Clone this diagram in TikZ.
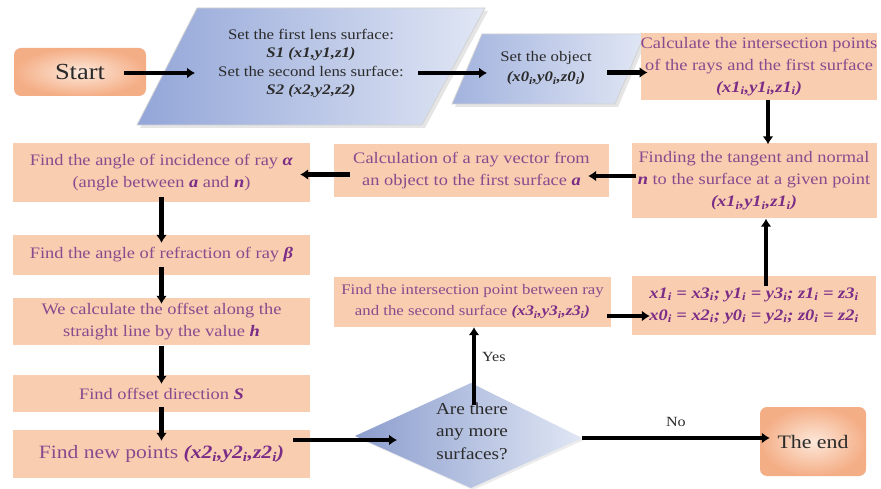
\documentclass[tikz,border=0pt]{standalone}
\usepackage{fontspec}
\setmainfont{Liberation Serif}[FakeStretch=1.15]
\usetikzlibrary{arrows.meta,calc,shadows}
\definecolor{peach}{HTML}{F8CDB0}
\definecolor{peachdk}{HTML}{F4AE86}
\definecolor{peachlt}{HTML}{FDE8DA}
\definecolor{txtp}{HTML}{8A4A8E}
\definecolor{txtd}{HTML}{7A2C86}
\definecolor{blued}{HTML}{93A6D8}
\definecolor{bluel}{HTML}{E0E6F4}
\definecolor{ink}{HTML}{2B2B2B}
\newcommand{\mybi}[1]{\textbf{\textit{#1}}}
\newcommand{\sbi}{\textsubscript{\textbf{\textit{i}}}}
\tikzset{
  pbox/.style={fill=peach, text=txtp, align=center, inner sep=0pt,
    font=\fontsize{16}{22}\selectfont},
  term/.style={rounded corners=7pt, shade, inner color=peachlt, outer color=peachdk,
    text=ink, inner sep=0pt},
  para/.style={left color=blued, right color=bluel, draw=gray!35, line width=0.8pt,
    drop shadow={opacity=0.2, shadow xshift=3pt, shadow yshift=-3pt}},
  ptext/.style={text=ink, align=center, inner sep=0pt},
  arr/.style={line width=4.2pt, black, -{Latex[length=8pt,width=11pt]}},
  lbl/.style={text=ink, inner sep=0pt, font=\fontsize{14}{16}\selectfont},
}
\begin{document}
\begin{tikzpicture}[x=1pt,y=-1pt]
\useasboundingbox (0,0) rectangle (881,489);
\fill[white] (0,0) rectangle (881,489);

% terminals
\node[term, minimum width=132pt, minimum height=48pt, font=\fontsize{23}{26}\selectfont] (start) at (80,72) {Start};
\node[term, minimum width=106pt, minimum height=69pt, font=\fontsize{19}{22}\selectfont] (theend) at (813,441.5) {The end};

% parallelograms
\path[para] (137,125) -- (197,8) -- (485,8) -- (422,125) -- cycle;
\node[ptext, font=\fontsize{14.6}{18.3}\selectfont] (par1) at (311,63.5)
  {Set the first lens surface:\\ \mybi{S1 (x1,y1,z1)}\\ Set the second lens surface:\\ \mybi{S2 (x2,y2,z2)}};
\path[para, left color=blued!80!bluel] (452,104) -- (482,34) -- (645,34) -- (615,104) -- cycle;
\node[ptext, font=\fontsize{14.6}{20}\selectfont] (par2) at (546,68.5)
  {Set the object\\ \mybi{(x0\sbi,y0\sbi,z0\sbi)}};

% diamond
\path[left color=blued!95!black, right color=bluel, drop shadow={opacity=0.15, shadow xshift=2pt, shadow yshift=-2pt}]
  (355,436) -- (471,383) -- (582,438) -- (471,488) -- cycle;
\node[ptext, font=\fontsize{16.7}{22.5}\selectfont] (dia) at (472,431) {Are there\\ any more\\ surfaces?};

% process boxes
\node[pbox, minimum width=232pt, minimum height=67pt] (calc1) at (759,66.5)
  {Calculate the intersection points\\ of the rays and the first surface\\ \textcolor{txtd}{\mybi{(x1\sbi,y1\sbi,z1\sbi)}}};
\node[pbox, minimum width=245pt, minimum height=75pt] (tangent) at (754,181)
  {Finding the tangent and normal\\ \textcolor{txtd}{\mybi{n}} to the surface at a given point\\ \textcolor{txtd}{\mybi{(x1\sbi,y1\sbi,z1\sbi)}}};
\node[pbox, minimum width=275pt, minimum height=53pt] (raycalc) at (471.5,170.5)
  {Calculation of a ray vector from\\ an object to the first surface \textcolor{txtd}{\mybi{a}}};
\node[pbox, minimum width=297pt, minimum height=59pt] (incid) at (161.5,172.5)
  {Find the angle of incidence of ray \textcolor{txtd}{\mybi{α}}\\ (angle between \textcolor{txtd}{\mybi{a}} and \textcolor{txtd}{\mybi{n}})};
\node[pbox, minimum width=297pt, minimum height=40pt] (refr) at (161.5,255)
  {Find the angle of refraction of ray \textcolor{txtd}{\mybi{β}}};
\node[pbox, minimum width=297pt, minimum height=47pt] (offset) at (161.5,321.5)
  {We calculate the offset along the\\ straight line by the value \textcolor{txtd}{\mybi{h}}};
\node[pbox, minimum width=297pt, minimum height=37pt] (dirS) at (161.5,393.5)
  {Find offset direction \textcolor{txtd}{\mybi{S}}};
\node[pbox, minimum width=297pt, minimum height=48pt, font=\fontsize{18.8}{22}\selectfont] (newpts) at (161.5,454)
  {Find new points \textcolor{txtd}{\mybi{(x2\sbi,y2\sbi,z2\sbi)}}};
\node[pbox, minimum width=277pt, minimum height=50pt, font=\fontsize{14.6}{21}\selectfont] (inter2) at (472.5,302)
  {Find the intersection point between ray\\ and the second surface \textcolor{txtd}{\mybi{(x3\sbi,y3\sbi,z3\sbi)}}};
\node[pbox, minimum width=244pt, minimum height=59pt, text=txtd] (assign) at (754,305.5)
  {\mybi{x1\sbi\ = x3\sbi; y1\sbi\ = y3\sbi; z1\sbi\ = z3\sbi}\\ \mybi{x0\sbi\ = x2\sbi; y0\sbi\ = y2\sbi; z0\sbi\ = z2\sbi}};

% connectors
\draw[arr] ($(start.east)+(-22,1)$) -- ($(par1.center)+(-116,9.5)$);
\draw[arr] ($(par1.center)+(107,9.5)$) -- ($(par2.center)+(-59,4.5)$);
\draw[arr] ($(par2.center)+(61,4)$) -- ($(calc1.west)+(7,6)$);
\draw[arr] ($(calc1.south)+(9,0)$) -- ($(tangent.north)+(14,1)$);
\draw[arr] ($(assign.north)+(12,10)$) -- ($(tangent.south)+(12,0)$);
\draw[arr] ($(tangent.west)+(5,-5)$) -- ($(raycalc.east)+(-21,5.5)$);
\draw[arr] ($(raycalc.west)+(16,4)$) -- ($(incid.east)+(-10,2)$);
\draw[arr] ($(incid.south)+(0,-5)$) -- ($(refr.north)+(0,8)$);
\draw[arr] ($(refr.south)+(0,-8)$) -- ($(offset.north)+(0,6)$);
\draw[arr] ($(offset.south)+(0,1)$) -- ($(dirS.north)+(0,9)$);
\draw[arr] ($(dirS.south)+(0,-5)$) -- ($(newpts.north)+(0,11)$);
\draw[arr] ($(newpts.east)+(-17,-14)$) -- ($(dia.center)+(-75,9)$);
\draw[arr] ($(dia.center)+(2,-26)$) -- ($(inter2.south)+(1.5,0)$)
  node[lbl, pos=0.62, right=6pt] {Yes};
\draw[arr] ($(inter2.east)+(-4,14)$) -- ($(assign.west)+(18,10.5)$);
\draw[arr] ($(dia.center)+(110,7)$) -- ($(theend.west)+(10,-3.5)$)
  node[lbl, midway, above=9pt] {No};
\end{tikzpicture}
\end{document}
